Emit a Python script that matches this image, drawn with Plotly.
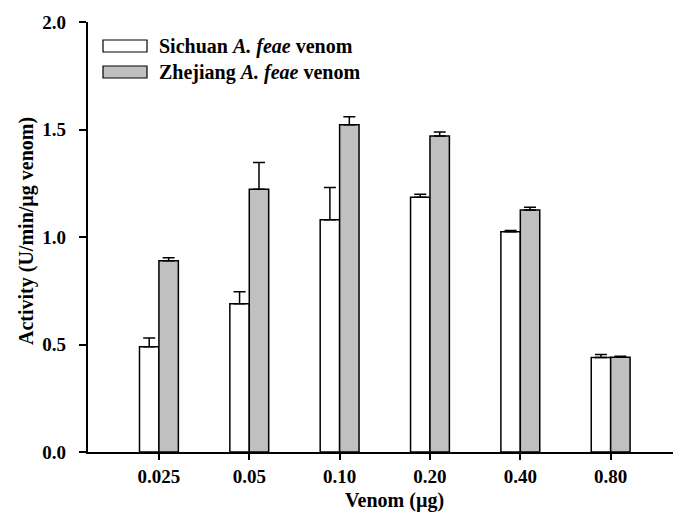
import plotly.graph_objects as go

# Venom doses (µg) and measured activity (U/min/µg venom)
doses = ["0.025", "0.05", "0.10", "0.20", "0.40", "0.80"]
sichuan_mean = [0.49, 0.69, 1.08, 1.185, 1.025, 0.44]
sichuan_err = [0.04, 0.055, 0.15, 0.014, 0.005, 0.013]
zhejiang_mean = [0.89, 1.222, 1.522, 1.47, 1.126, 0.441]
zhejiang_err = [0.013, 0.125, 0.037, 0.018, 0.012, 0.004]
activity_ticks = [0, 0.5, 1.0, 1.5, 2.0]

series_names = ["Sichuan <i>A. feae</i> venom", "Zhejiang <i>A. feae</i> venom"]
fills = ["white", "#c0c0c0"]

FONT = "Liberation Serif"
BAR_W = 0.215
L, T, W, H = 88, 22, 585, 430  # plot area in pixels


def px(x):
    return (x - L) / W


def py(y):
    return (T + H - y) / H


fig = go.Figure()
for name, mean, err, fill, off in [
    (series_names[0], sichuan_mean, sichuan_err, fills[0], -BAR_W),
    (series_names[1], zhejiang_mean, zhejiang_err, fills[1], 0.0),
]:
    fig.add_trace(go.Bar(
        x=doses, y=mean, name=name, width=BAR_W, offset=off,
        marker=dict(color=fill, line=dict(color="black", width=1.5)),
        error_y=dict(type="data", array=err, arrayminus=[0] * len(err),
                     symmetric=False, color="black", thickness=1.5, width=6),
        showlegend=False,
    ))

# Legend drawn as swatches with labels in the upper-left corner
legend_rows = [(46, fills[0], series_names[0]), (72, fills[1], series_names[1])]
for ypx, fill, label in legend_rows:
    fig.add_shape(type="rect", xref="paper", yref="paper",
                  x0=px(103), x1=px(147), y0=py(ypx + 6), y1=py(ypx - 6),
                  fillcolor=fill, line=dict(color="black", width=1.2))
    fig.add_annotation(xref="paper", yref="paper", x=px(157), y=py(ypx),
                       xanchor="left", yanchor="middle",
                       text="<b>" + label + "</b>", showarrow=False,
                       font=dict(family=FONT, size=20, color="black"))

# Axis titles
fig.add_annotation(xref="paper", yref="paper", x=px(394), y=py(514),
                   xanchor="center", yanchor="bottom", showarrow=False,
                   text="<b>Venom (µg)</b>",
                   font=dict(family=FONT, size=20, color="black"))
fig.add_annotation(xref="paper", yref="paper", x=px(26), y=py(231),
                   xanchor="center", yanchor="middle", showarrow=False,
                   textangle=-90, text="<b>Activity (U/min/µg venom)</b>",
                   font=dict(family=FONT, size=20, color="black"))

fig.update_layout(
    width=673, height=512,
    margin=dict(l=L, r=673 - L - W, t=T, b=512 - T - H),
    paper_bgcolor="white", plot_bgcolor="white",
    barmode="overlay",
    font=dict(family=FONT, size=19, color="black"),
    xaxis=dict(
        type="category", range=[-0.785, 5.69],
        showline=True, linecolor="black", linewidth=1.5,
        ticks="outside", ticklen=6, tickwidth=1.5, tickcolor="black",
        tickfont=dict(family=FONT, size=19, color="black"),
        tickvals=doses, ticktext=["<b>%s</b>" % d for d in doses],
        showgrid=False, zeroline=False, automargin=False,
    ),
    yaxis=dict(
        range=[0, 2.0], tickvals=activity_ticks,
        ticktext=["<b>%.1f</b>\u00a0\u00a0" % v for v in activity_ticks],
        showline=True, linecolor="black", linewidth=1.5,
        ticks="outside", ticklen=7, tickwidth=1.5, tickcolor="black",
        tickfont=dict(family=FONT, size=19, color="black"),
        showgrid=False, zeroline=False, automargin=False,
    ),
)

fig.write_html("out.html")
